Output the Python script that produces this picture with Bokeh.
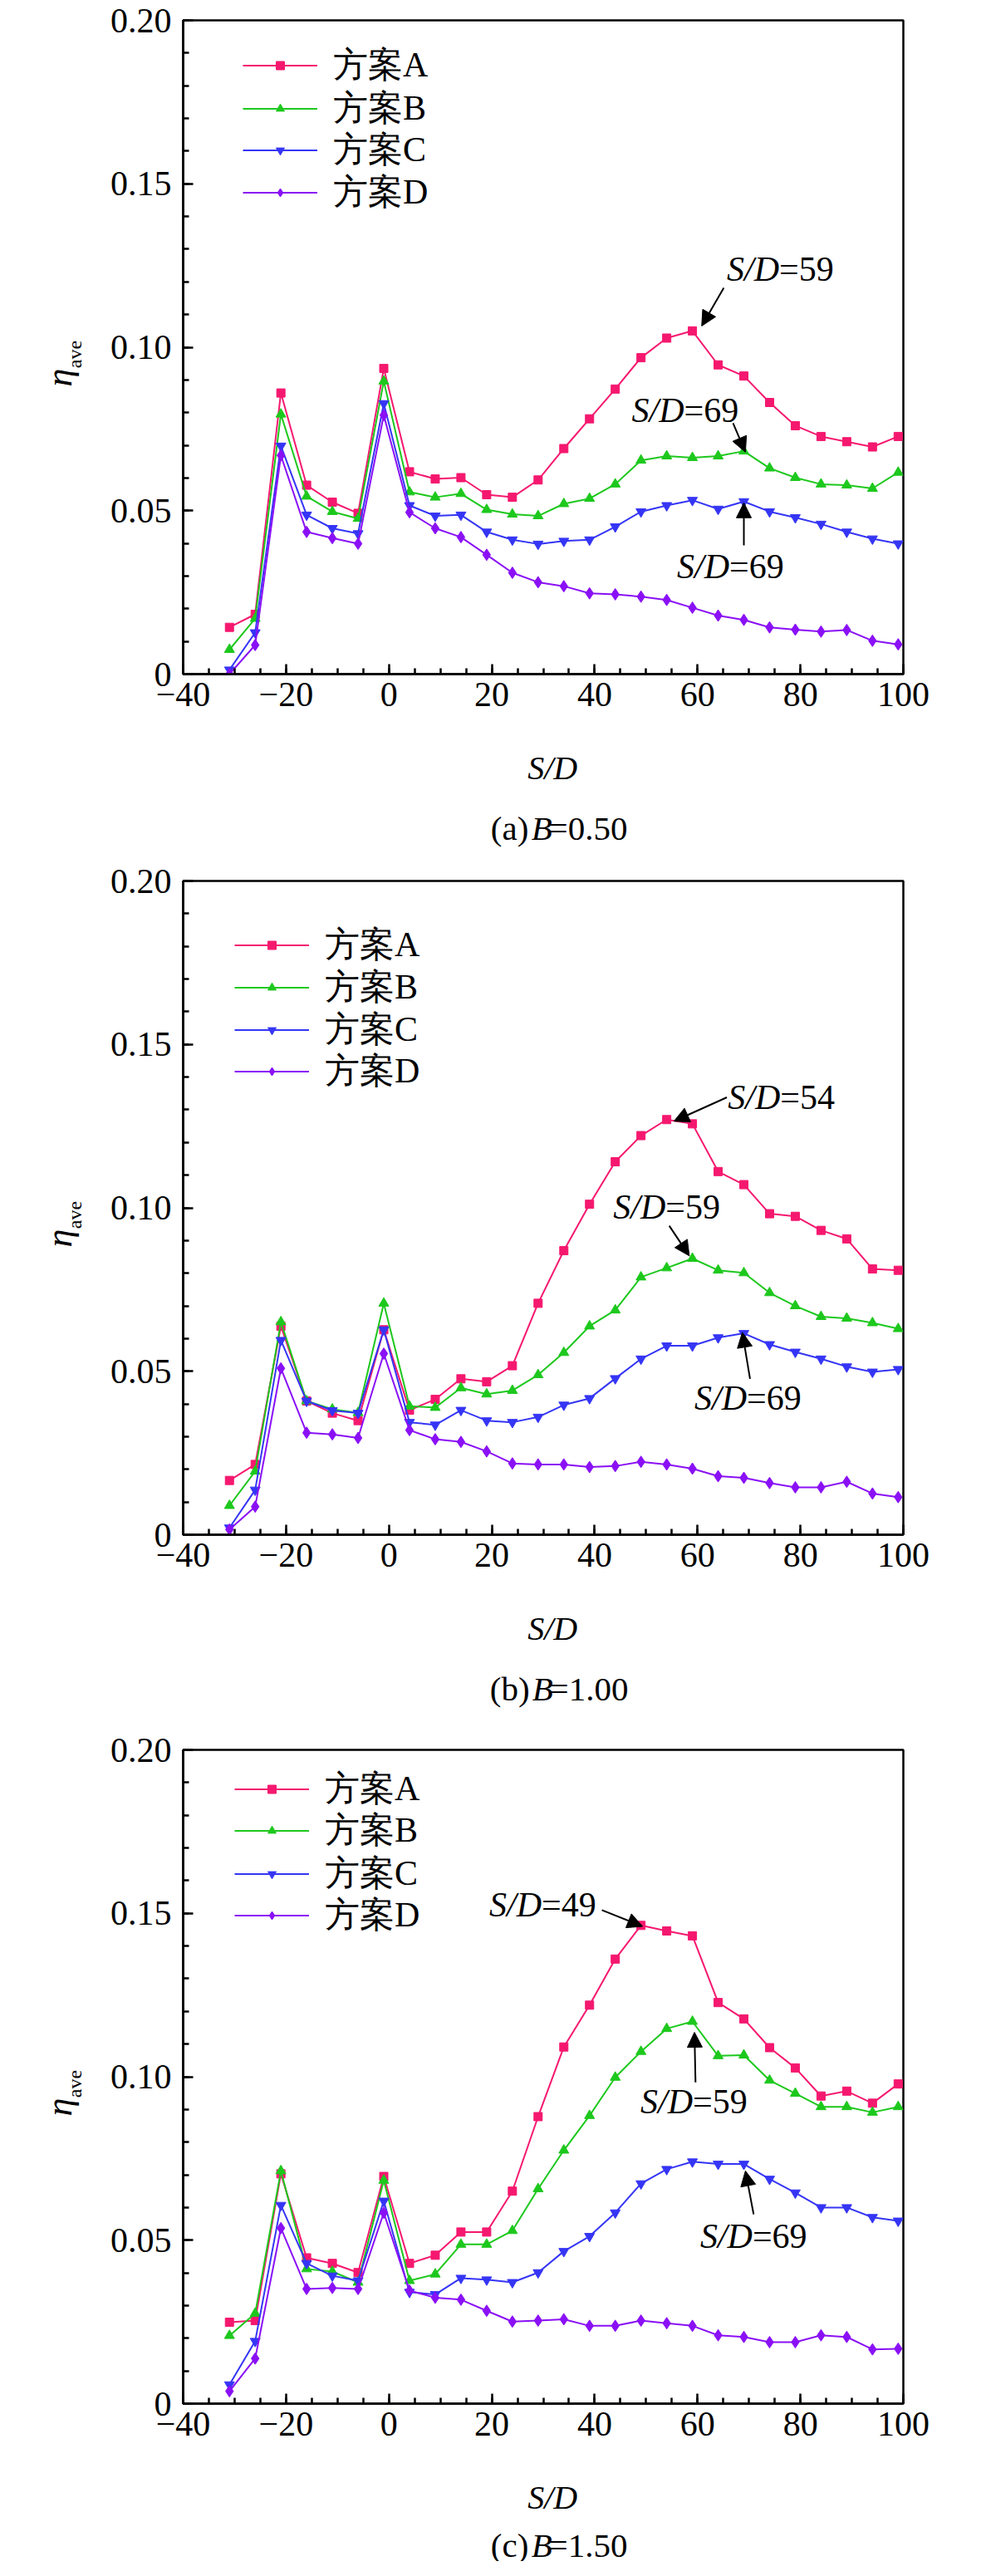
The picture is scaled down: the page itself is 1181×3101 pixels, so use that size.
import math
from bokeh.plotting import figure
from bokeh.models import Range1d, FixedTicker, Legend, LegendItem, Label, Arrow, NormalHead
from bokeh.layouts import column, row
from bokeh.embed import file_html
from bokeh.resources import INLINE
from bokeh.core.properties import value

# ---------------- data ----------------
SD = [-31, -26, -21, -16, -11, -6, -1, 4, 9, 14, 19, 24, 29, 34, 39, 44, 49, 54,
      59, 64, 69, 74, 79, 84, 89, 94, 99]

SCHEMES = ["方案A", "方案B", "方案C", "方案D"]

# B = 0.50
A_050 = [0.0143, 0.0183, 0.0860, 0.0578, 0.0526, 0.0492, 0.0935, 0.0619, 0.0597, 0.0601, 0.0549, 0.0541, 0.0594, 0.0690,
         0.0781, 0.0872, 0.0968, 0.1028, 0.1050, 0.0946, 0.0912, 0.0831, 0.0760, 0.0727, 0.0711, 0.0695, 0.0727]
B_050 = [0.0075, 0.0170, 0.0795, 0.0544, 0.0497, 0.0476, 0.0896, 0.0557, 0.0541, 0.0552, 0.0503, 0.0489, 0.0484, 0.0521,
         0.0537, 0.0581, 0.0654, 0.0667, 0.0662, 0.0667, 0.0682, 0.0630, 0.0601, 0.0581, 0.0578, 0.0568, 0.0617]
C_050 = [0.0013, 0.0127, 0.0698, 0.0487, 0.0446, 0.0430, 0.0828, 0.0516, 0.0484, 0.0487, 0.0435, 0.0411, 0.0398, 0.0407,
         0.0411, 0.0451, 0.0497, 0.0516, 0.0532, 0.0505, 0.0528, 0.0497, 0.0479, 0.0459, 0.0435, 0.0414, 0.0399]
D_050 = [0.0000, 0.0089, 0.0669, 0.0435, 0.0416, 0.0399, 0.0792, 0.0495, 0.0446, 0.0419, 0.0365, 0.0310, 0.0281, 0.0269,
         0.0247, 0.0244, 0.0237, 0.0227, 0.0203, 0.0179, 0.0166, 0.0143, 0.0136, 0.0130, 0.0135, 0.0102, 0.0091]

# B = 1.00
A_100 = [0.0166, 0.0215, 0.0638, 0.0409, 0.0372, 0.0349, 0.0627, 0.0381, 0.0414, 0.0477, 0.0468, 0.0517, 0.0708, 0.0869,
         0.1011, 0.1141, 0.1221, 0.1270, 0.1257, 0.1111, 0.1071, 0.0982, 0.0974, 0.0931, 0.0905, 0.0813, 0.0809]
B_100 = [0.0089, 0.0194, 0.0651, 0.0409, 0.0384, 0.0373, 0.0708, 0.0393, 0.0389, 0.0449, 0.0430, 0.0441, 0.0489, 0.0557,
         0.0638, 0.0687, 0.0788, 0.0816, 0.0845, 0.0809, 0.0801, 0.0740, 0.0700, 0.0667, 0.0662, 0.0648, 0.0630]
C_100 = [0.0021, 0.0137, 0.0595, 0.0409, 0.0380, 0.0372, 0.0627, 0.0344, 0.0336, 0.0381, 0.0349, 0.0344, 0.0360, 0.0397,
         0.0417, 0.0478, 0.0538, 0.0578, 0.0578, 0.0603, 0.0616, 0.0582, 0.0559, 0.0538, 0.0514, 0.0498, 0.0506]
D_100 = [0.0016, 0.0086, 0.0509, 0.0312, 0.0307, 0.0296, 0.0554, 0.0320, 0.0292, 0.0284, 0.0255, 0.0218, 0.0215, 0.0215,
         0.0207, 0.0210, 0.0223, 0.0215, 0.0202, 0.0179, 0.0174, 0.0158, 0.0145, 0.0145, 0.0162, 0.0126, 0.0115]

# B = 1.50
A_150 = [0.0249, 0.0254, 0.0703, 0.0446, 0.0429, 0.0401, 0.0695, 0.0429, 0.0454, 0.0525, 0.0525, 0.0650, 0.0878, 0.1091,
         0.1219, 0.1360, 0.1463, 0.1446, 0.1431, 0.1227, 0.1177, 0.1089, 0.1027, 0.0941, 0.0956, 0.0919, 0.0978]
B_150 = [0.0208, 0.0276, 0.0712, 0.0412, 0.0404, 0.0371, 0.0683, 0.0376, 0.0396, 0.0487, 0.0487, 0.0529, 0.0657, 0.0775,
         0.0881, 0.0998, 0.1077, 0.1147, 0.1169, 0.1064, 0.1066, 0.0989, 0.0949, 0.0908, 0.0908, 0.0891, 0.0908]
C_150 = [0.0058, 0.0191, 0.0607, 0.0429, 0.0391, 0.0376, 0.0620, 0.0341, 0.0334, 0.0384, 0.0379, 0.0371, 0.0401, 0.0466,
         0.0512, 0.0584, 0.0673, 0.0717, 0.0740, 0.0733, 0.0733, 0.0687, 0.0645, 0.0600, 0.0600, 0.0570, 0.0559]
D_150 = [0.0038, 0.0138, 0.0537, 0.0351, 0.0354, 0.0351, 0.0584, 0.0346, 0.0324, 0.0318, 0.0284, 0.0251, 0.0254, 0.0258,
         0.0238, 0.0238, 0.0254, 0.0246, 0.0238, 0.0209, 0.0204, 0.0188, 0.0188, 0.0209, 0.0204, 0.0166, 0.0168]

X_TICKS = [-40, -20, 0, 20, 40, 60, 80, 100]
X_TICK_LABELS = ["\u221240", "\u221220", "0", "20", "40", "60", "80", "100"]
Y_TICKS = [0.0, 0.05, 0.10, 0.15, 0.20]
Y_TICK_LABELS = ["0", "0.05", "0.10", "0.15", "0.20"]

# annotations: (text x, text y, number) and arrows (x_start, y_start, x_end, y_end), data units
ANN_050 = [(65.7, 0.1239, "59"), (47.2, 0.0808, "69"), (56.0, 0.0330, "69")]
ARR_050 = [(65.1, 0.1182, 60.8, 0.1065), (66.9, 0.0768, 69.3, 0.0679), (69.0, 0.0394, 69.0, 0.0524)]
ANN_100 = [(65.9, 0.1338, "54"), (43.6, 0.1003, "59"), (59.4, 0.0417, "69")]
ARR_100 = [(65.7, 0.1338, 55.4, 0.1265), (54.5, 0.0945, 58.4, 0.0853), (70.2, 0.0477, 68.7, 0.0619)]
ANN_150 = [(19.5, 0.1526, "49"), (48.9, 0.0923, "59"), (60.5, 0.0512, "69")]
ARR_150 = [(41.4, 0.1510, 49.3, 0.1460), (59.6, 0.0983, 59.4, 0.1136), (70.9, 0.0579, 69.3, 0.0712)]

# ---------------- style / layout ----------------
COLORS = ["#F5186F", "#1DC81D", "#3535F5", "#8A10F5"]
MARKERS = ["square", "triangle", "inverted_triangle", "diamond"]
MSIZES = [10, 12, 12, 14]
SERIF = "Liberation Serif"
STRIP_W = 120          # left strip carrying the y-axis title
MAIN_W = 1040
BORDER_L = 100
BORDER_R = 73
TOP = 24
FRAME_H = 787
BOT = 62
MAIN_H = TOP + FRAME_H + BOT
FRAME_CX = BORDER_L + (MAIN_W - BORDER_L - BORDER_R) / 2.0
ROW_H = 60


def lab(p, text, x, y, fs, italic=False, align="left", baseline="middle", angle=0.0, x_offset=0):
    p.add_layout(Label(x=x, y=y, text=text, text_font=SERIF,
                       text_font_size=f"{fs}px", text_font_style="italic" if italic else "normal",
                       text_color="black", text_align=align, text_baseline=baseline,
                       angle=angle, x_offset=x_offset))


def strip(width, height):
    s = figure(width=width, height=height, x_range=Range1d(0, width), y_range=Range1d(0, height),
               output_backend="svg", toolbar_location=None, title=None,
               x_axis_type=None, y_axis_type=None,
               min_border_left=0, min_border_right=0, min_border_top=0, min_border_bottom=0)
    s.outline_line_color = None
    s.xgrid.visible = False
    s.ygrid.visible = False
    s.background_fill_color = "white"
    s.border_fill_color = "white"
    return s


def main_fig(ys_list, leg_x, leg_rows, anns, arrows):
    p = figure(width=MAIN_W, height=MAIN_H, x_range=Range1d(-40, 100), y_range=Range1d(0, 0.2),
               output_backend="svg", toolbar_location=None, title=None,
               min_border_left=BORDER_L, min_border_right=BORDER_R, min_border_top=TOP, min_border_bottom=BOT)
    p.background_fill_color = "white"
    p.border_fill_color = "white"
    p.outline_line_color = "black"
    p.outline_line_width = 2.5
    p.xgrid.visible = False
    p.ygrid.visible = False

    p.xaxis.ticker = FixedTicker(ticks=X_TICKS, minor_ticks=list(range(-40, 101, 5)))
    p.xaxis.major_label_overrides = {t: l for t, l in zip(X_TICKS, X_TICK_LABELS)}
    p.yaxis.ticker = FixedTicker(ticks=Y_TICKS, minor_ticks=[i / 100 for i in range(0, 21)])
    p.yaxis.major_label_overrides = {t: l for t, l in zip(Y_TICKS, Y_TICK_LABELS)}
    for ax in (p.xaxis[0], p.yaxis[0]):
        ax.axis_line_width = 2.5
        ax.axis_line_color = "black"
        ax.major_tick_in = 12
        ax.major_tick_out = 0
        ax.minor_tick_in = 7
        ax.minor_tick_out = 0
        ax.major_tick_line_width = 2.5
        ax.minor_tick_line_width = 2.5
        ax.major_tick_line_color = "black"
        ax.minor_tick_line_color = "black"
        ax.major_label_text_font = SERIF
        ax.major_label_text_font_size = "42px"
        ax.major_label_text_color = "black"
        ax.axis_label = None
    p.xaxis.major_label_standoff = 10
    p.yaxis.major_label_standoff = 14

    for name, ys, c, m, ms, rc in zip(SCHEMES, ys_list, COLORS, MARKERS, MSIZES, leg_rows):
        r1 = p.line(SD, ys, line_color=c, line_width=2)
        r2 = p.scatter(SD, ys, marker=m, size=ms, fill_color=c, line_color=c)
        # one legend box per entry, so every row sits exactly where the reference has it
        leg = Legend(items=[LegendItem(label=value(name), renderers=[r1, r2])],
                     location=(leg_x, FRAME_H - rc - ROW_H / 2), glyph_width=90, glyph_height=25,
                     label_height=ROW_H, spacing=0, padding=0, margin=0, label_standoff=19,
                     label_text_font=SERIF, label_text_font_size="42px", label_text_color="black",
                     border_line_alpha=0, background_fill_alpha=0)
        p.add_layout(leg)

    for (tx, ty, num) in anns:
        lab(p, "S/D", tx, ty, 42, italic=True)
        lab(p, "=" + num, tx, ty, 42, x_offset=63)
    for (xs, ys_, xe, ye) in arrows:
        p.add_layout(Arrow(end=NormalHead(size=18, fill_color="black", line_color="black"),
                           x_start=xs, y_start=ys_, x_end=xe, y_end=ye,
                           line_color="black", line_width=2))
    return p


def panel(ys_list, leg_x, leg_rows, anns, arrows, tag, bval, cap_h, sd_base, cap_base):
    p = main_fig(ys_list, leg_x, leg_rows, anns, arrows)

    # y-axis title strip: eta (italic) with subscript "ave"
    s = strip(STRIP_W, MAIN_H)
    lab(s, "\u03b7", 71, BOT + 357, 44, italic=True, align="center", angle=math.pi / 2)
    lab(s, "ave", 89, BOT + 385, 24, align="center", angle=math.pi / 2)

    # x-axis title and caption strip
    c = strip(MAIN_W, cap_h)
    lab(c, "S/D", FRAME_CX, cap_h - sd_base, 40, italic=True, align="center", baseline="alphabetic")
    fs = 41
    w_tag = {"(a)": 1.11, "(b)": 1.166, "(c)": 1.11}[tag]
    gap = 0.32
    total = (w_tag + gap + 0.611 + 2.314) * fs
    x0 = FRAME_CX - total / 2
    yb = cap_h - cap_base
    lab(c, tag, x0, yb, fs, baseline="alphabetic")
    lab(c, "B", x0 + (w_tag + gap) * fs, yb, fs, italic=True, baseline="alphabetic")
    lab(c, "=" + bval, x0 + (w_tag + gap + 0.611) * fs, yb, fs, baseline="alphabetic")
    return row(s, column(p, c, spacing=0), spacing=0)


pa = panel([A_050, B_050, C_050, D_050], 72, [54, 106, 156, 207], ANN_050, ARR_050, "(a)", "0.50", 163, 51, 123)
pb = panel([A_100, B_100, C_100, D_100], 62, [77, 128, 179, 229], ANN_100, ARR_100, "(b)", "1.00", 173, 51, 123)
pc = panel([A_150, B_150, C_150, D_150], 62, [47, 97, 149, 199], ANN_150, ARR_150, "(c)", "1.50", 128, 51, 108)

layout = column(pa, pb, pc, spacing=0)
open("out.html", "w", encoding="utf-8").write(file_html(layout, INLINE))
